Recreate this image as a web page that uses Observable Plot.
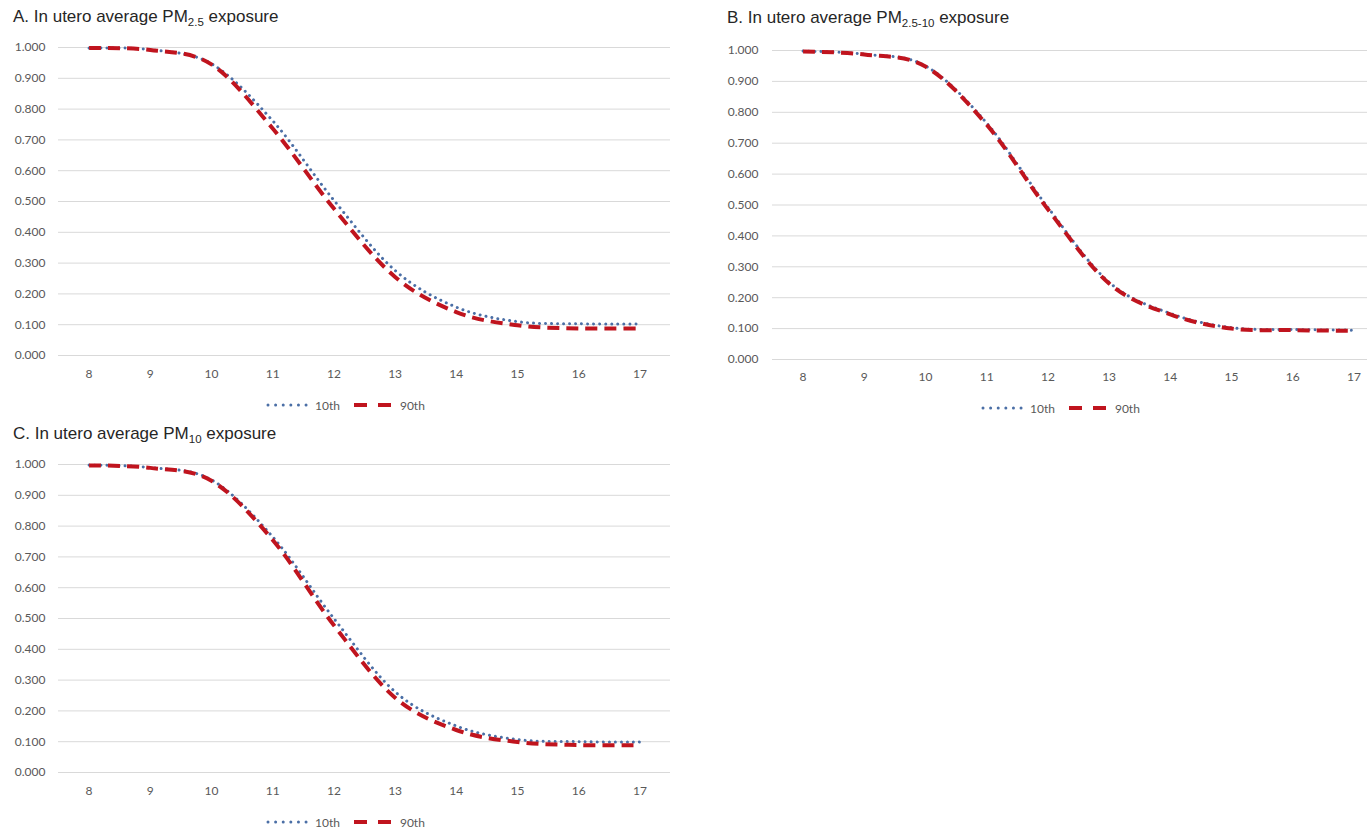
<!DOCTYPE html>
<html>
<head>
<meta charset="utf-8">
<script src="https://cdn.jsdelivr.net/npm/d3@7"></script>
<script src="https://cdn.jsdelivr.net/npm/@observablehq/plot@0.6"></script>
<style>
  html, body { margin: 0; padding: 0; background: #fff; overflow: hidden; }
  #root { position: relative; width: 1367px; height: 830px; overflow: hidden; background: #fff; }
  .title { position: absolute; font-family: "Liberation Sans", Arial, sans-serif; font-size: 17px; color: #262626; white-space: nowrap; line-height: 20px; }
  .title .sub { font-size: 11.5px; position: relative; top: 4px; }
  .panel { position: absolute; overflow: visible; }
  .panel svg { max-width: none !important; }
  .legend { position: absolute; display: flex; align-items: center; font-family: Lato, "Open Sans", sans-serif; font-size: 12px; color: #595959; white-space: nowrap; height: 16px; }
  .legend svg { display: block; }
</style>
</head>
<body>
<div id="root"></div>
<script>
// ---- data ----
const weeks = [8, 9, 10, 11, 12, 13, 14, 15, 16, 17];
const yTicks = [0, 0.1, 0.2, 0.3, 0.4, 0.5, 0.6, 0.7, 0.8, 0.9, 1.0];
const seriesNames = ["10th", "90th"];

// Panel A: PM2.5
const pm25_p10 = [0.998, 0.993, 0.947, 0.762, 0.504, 0.276, 0.157, 0.110, 0.103, 0.102];
const pm25_p90 = [0.998, 0.992, 0.945, 0.737, 0.477, 0.255, 0.141, 0.098, 0.088, 0.088];
// Panel B: PM2.5-10
const pm2510_p10 = [0.998, 0.988, 0.950, 0.765, 0.492, 0.250, 0.149, 0.103, 0.097, 0.095];
const pm2510_p90 = [0.997, 0.987, 0.948, 0.760, 0.486, 0.246, 0.146, 0.100, 0.095, 0.093];
// Panel C: PM10
const pm10_p10 = [0.998, 0.990, 0.950, 0.765, 0.500, 0.262, 0.151, 0.107, 0.100, 0.099];
const pm10_p90 = [0.997, 0.989, 0.947, 0.755, 0.478, 0.243, 0.138, 0.099, 0.089, 0.089];

const blue = "#4B6FA6";
const red = "#C0141E";
const fmt3 = d3.format(".3f");

const root = document.getElementById("root");

function rows(vals) { return weeks.map((w, i) => ({ week: w, value: vals[i] })); }

function addTitle(left, top, pre, sub, post) {
  const d = document.createElement("div");
  d.className = "title";
  d.style.left = left + "px";
  d.style.top = top + "px";
  d.appendChild(document.createTextNode(pre));
  const s = document.createElement("span");
  s.className = "sub";
  s.textContent = sub;
  d.appendChild(s);
  d.appendChild(document.createTextNode(post));
  root.appendChild(d);
}

function addLegend(left, centerY) {
  const d = document.createElement("div");
  d.className = "legend";
  d.style.left = left + "px";
  d.style.top = (centerY - 8) + "px";
  d.innerHTML =
    `<svg width="44" height="8"><line x1="2" y1="4" x2="42" y2="4" stroke="${blue}" stroke-width="3" stroke-dasharray="0.01,7.6" stroke-linecap="round"/></svg>` +
    `<span style="margin-left:5px">${seriesNames[0]}</span>` +
    `<svg width="40" height="8" style="margin-left:14px"><line x1="0" y1="4" x2="40" y2="4" stroke="${red}" stroke-width="4" stroke-dasharray="13,11"/></svg>` +
    `<span style="margin-left:6px">${seriesNames[1]}</span>`;
  root.appendChild(d);
}

function addPanel(cfg, p10, p90) {
  const chart = Plot.plot({
    width: cfg.width,
    height: cfg.height,
    marginTop: cfg.marginTop,
    marginBottom: cfg.marginBottom,
    marginLeft: cfg.marginLeft,
    marginRight: 0,
    style: { fontFamily: "Lato, 'Open Sans', sans-serif", fontSize: "12px", color: "#595959", background: "transparent", overflow: "visible", maxWidth: "none" },
    x: { domain: [7.5, 17.5], label: null },
    y: { domain: [0, 1], label: null },
    marks: [
      Plot.gridY(yTicks, { stroke: "#d9d9d9", strokeOpacity: 1, strokeWidth: 1 }),
      Plot.axisX(weeks, { tickSize: 0, tickPadding: cfg.xPad, label: null, tickFormat: d => String(d) }),
      Plot.axisY(yTicks, { tickSize: 0, tickPadding: cfg.yPad, label: null, tickFormat: fmt3 }),
      Plot.line(rows(p10), { x: "week", y: "value", stroke: blue, strokeWidth: 3, strokeDasharray: "0.01,6", strokeLinecap: "round", curve: "cardinal", tension: 0 }),
      Plot.line(rows(p90), { x: "week", y: "value", stroke: red, strokeWidth: 4, strokeDasharray: "12,7", strokeLinecap: "butt", curve: "cardinal", tension: 0 })
    ]
  });
  chart.style.maxWidth = "none";
  const wrap = document.createElement("div");
  wrap.className = "panel";
  wrap.style.left = cfg.left + "px";
  wrap.style.top = cfg.top + "px";
  wrap.style.width = cfg.width + "px";
  wrap.appendChild(chart);
  root.appendChild(wrap);
}

// Panel A
addTitle(13, 7, "A. In utero average PM", "2.5", " exposure");
addPanel({ left: 0, top: 30, width: 670, height: 360, marginTop: 17, marginBottom: 35, marginLeft: 58, xPad: 14, yPad: 13 }, pm25_p10, pm25_p90);
addLegend(266, 405);

// Panel B
addTitle(727, 8, "B. In utero average PM", "2.5-10", " exposure");
addPanel({ left: 690, top: 30, width: 694, height: 365, marginTop: 20, marginBottom: 36, marginLeft: 82, xPad: 13, yPad: 14 }, pm2510_p10, pm2510_p90);
addLegend(981, 408);

// Panel C
addTitle(13, 424, "C. In utero average PM", "10", " exposure");
addPanel({ left: 0, top: 447, width: 670, height: 360, marginTop: 17, marginBottom: 35, marginLeft: 58, xPad: 14, yPad: 13 }, pm10_p10, pm10_p90);
addLegend(266, 822);
</script>
</body>
</html>
